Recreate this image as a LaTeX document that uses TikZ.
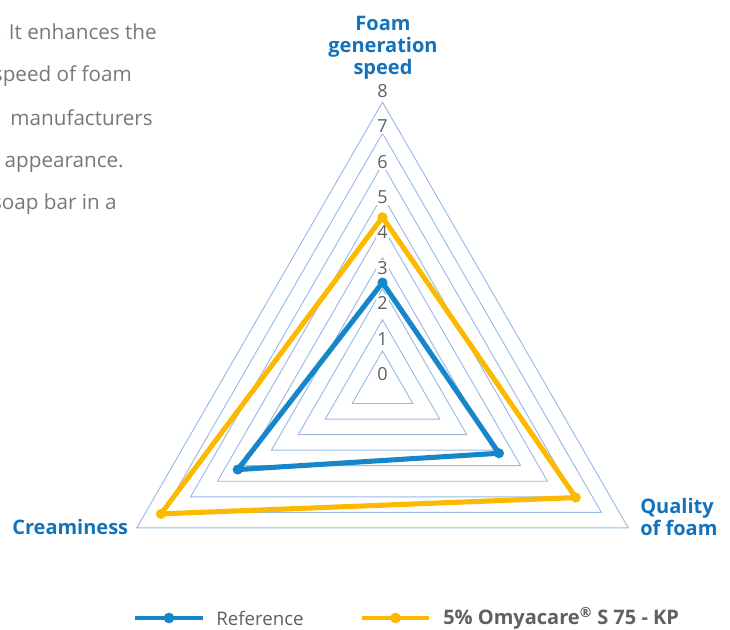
\documentclass[tikz,border=0pt]{standalone}
\usepackage{fontspec}
\setmainfont{Open Sans}
\usetikzlibrary{positioning,calc}

\definecolor{gridblue}{RGB}{150,186,230}
\definecolor{refblue}{RGB}{22,134,202}
\definecolor{omyayellow}{RGB}{253,185,0}
\definecolor{labelblue}{RGB}{18,115,188}
\definecolor{textgray}{RGB}{96,96,96}

\begin{document}
\begin{tikzpicture}[x=0.75pt,y=0.75pt,declare function={ringrad(\v)=35+31.1*\v;}]
	\tikzstyle{ring} = [draw=gridblue,line width=0.7pt];
	\tikzstyle{axislabel} = [font=\bfseries\fontsize{15}{16.5}\selectfont,text=labelblue,inner sep=0pt];
	\tikzstyle{tick} = [font=\fontsize{13.5}{15}\selectfont,text=textgray,fill=white,inner sep=1pt];
	\tikzstyle{page} = [font=\fontsize{15.5}{18}\selectfont,text=textgray!85,inner sep=0pt,anchor=base east];
	\tikzstyle{series} = [line width=3.8pt,line join=round];
	\tikzstyle{legend} = [font=\fontsize{14}{16}\selectfont,text=textgray,inner sep=0pt];
	\useasboundingbox (-382.5,-244) rectangle (347.5,386);
	% page text cut off on the left
	\begin{scope}
		\clip (-382.5,-244) rectangle (347.5,386);
		\node[page] (para1) at (-225.5,346) {. It enhances the};
		\node[page] (para2) at (-250.5,304) {speed of foam};
		\node[page] (para3) at (-229.5,260) {manufacturers};
		\node[page] (para4) at (-258.5,218) {appearance.};
		\node[page] (para5) at (-265.5,176) {soap bar in a};
	\end{scope}
	% rings and scale
	\foreach \v in {0,...,8}
		\draw[ring] (90:{ringrad(\v)}) -- (210:{ringrad(\v)}) -- (330:{ringrad(\v)}) -- cycle;
	\foreach \v in {0,...,8}
		\node[tick] (tick\v) at (0,{12+35.4*\v}) {\v};
	% axes
	\node[axislabel,align=center] (speed) at (0.5,338.5) {Foam\\generation\\speed};
	\node[axislabel,anchor=base west] (cream) at (-370.5,-149) {Creaminess};
	\node[axislabel,align=left,anchor=west] (quality) at (257.5,-131) {Quality\\of foam};
	% data
	\coordinate (ref1) at (90:{ringrad(2.2)});
	\coordinate (ref2) at (210:{ringrad(4.25)});
	\coordinate (ref3) at (330:{ringrad(3.2)});
	\coordinate (omy1) at (90:{ringrad(4.3)});
	\coordinate (omy2) at (210:{ringrad(7.1)});
	\coordinate (omy3) at (330:{ringrad(6.05)});
	\draw[series,refblue] (ref1) -- (ref2) -- (ref3) -- cycle;
	\foreach \p in {ref1,ref2,ref3}
		\fill[refblue] (\p) circle (3.8pt);
	\draw[series,omyayellow] (omy1) -- (omy2) -- (omy3) -- cycle;
	\foreach \p in {omy1,omy2,omy3}
		\fill[omyayellow] (\p) circle (3.8pt);
	% legend
	\coordinate (lref1) at (-247.5,-232);
	\coordinate (lref2) at (-179.5,-232);
	\coordinate (lomy1) at (-20.5,-232);
	\coordinate (lomy2) at (46.5,-232);
	\draw[refblue,line width=3.5pt] (lref1) -- (lref2);
	\fill[refblue] ($(lref1)!0.5!(lref2)$) circle (4pt);
	\node[legend,right=9.75pt of lref2] (lreftext) {Reference};
	\draw[omyayellow,line width=3.5pt] (lomy1) -- (lomy2);
	\fill[omyayellow] ($(lomy1)!0.5!(lomy2)$) circle (4pt);
	\node[legend,font=\bfseries\fontsize{15}{17}\selectfont,right=10.5pt of lomy2] (lomytext) {5\% Omyacare\textsuperscript{®} S 75 - KP};
\end{tikzpicture}
\end{document}
